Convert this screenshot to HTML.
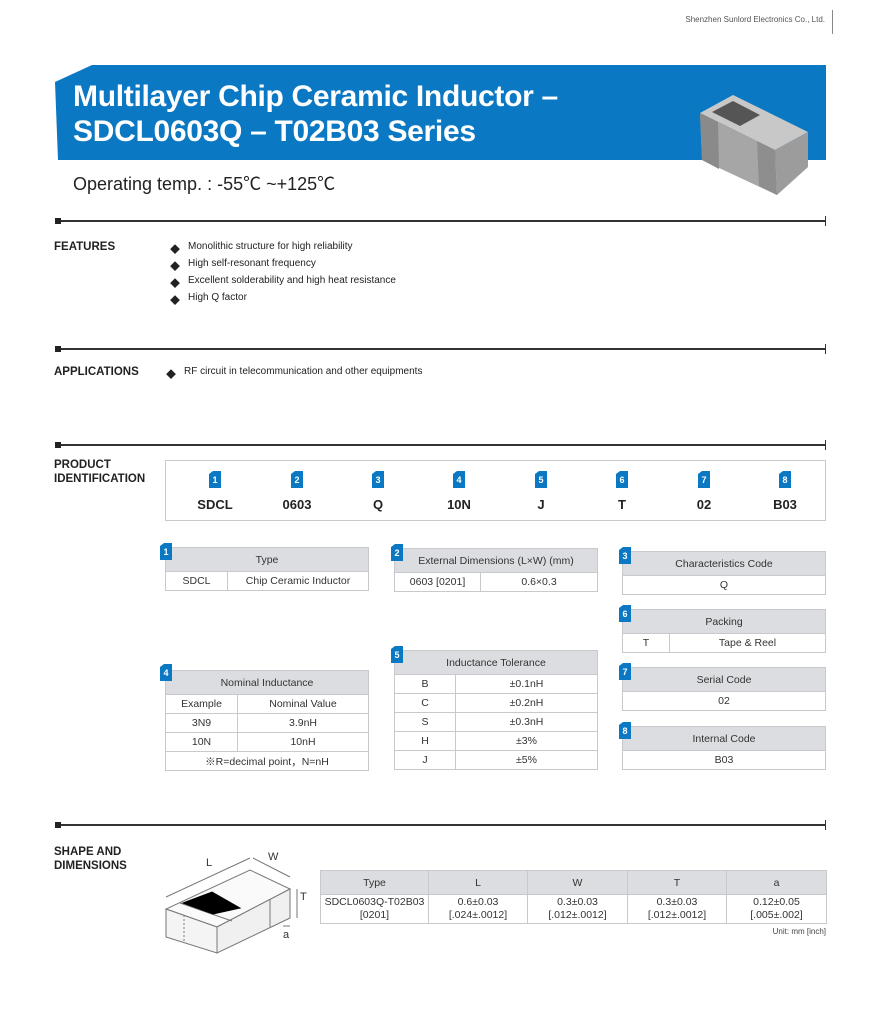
<!DOCTYPE html>
<html><head><meta charset="utf-8">
<style>
*{margin:0;padding:0;box-sizing:border-box}
body{width:878px;height:1014px;background:#fff;position:relative;font-family:"Liberation Sans","Noto Sans CJK SC",sans-serif;color:#222;overflow:hidden}
.a{position:absolute}
.sec{position:absolute;left:55px;width:771px;height:2px;background:#333}
.sec:before{content:"";position:absolute;left:0;top:-2px;width:6px;height:6px;background:#222}
.sec:after{content:"";position:absolute;right:0;top:-4px;width:1px;height:10px;background:#333}
.h{position:absolute;left:54px;font-weight:bold;font-size:11.5px;line-height:14px;color:#222}
.li{position:absolute;left:170px;font-size:10px}
.li span{position:absolute;left:18px;white-space:nowrap}
.badge{position:absolute;width:12px;height:17px;background:#0a78c2;color:#fff;font-size:9px;font-weight:bold;text-align:center;line-height:18px;clip-path:polygon(0 3px,4px 0,100% 0,100% 100%,0 100%)}
.code{position:absolute;top:497px;width:60px;margin-left:-30px;text-align:center;font-weight:bold;font-size:13px}
table{position:absolute;border-collapse:collapse;font-size:10.5px;color:#333}
td{border:1.5px solid #c8c9cc;text-align:center;height:19px;padding:0}
td.hd{background:#dcdde0;height:24px}
</style></head><body>
<div class="a" style="right:53px;top:15px;font-size:8px;color:#555">Shenzhen Sunlord Electronics Co., Ltd.</div>
<div class="a" style="left:832px;top:10px;width:1px;height:24px;background:#888"></div>

<div class="a" style="left:55px;top:65px;width:771px;height:95px;background:#0a78c2;clip-path:polygon(37px 0,100% 0,100% 100%,3px 100%,0 17px)"></div>
<div class="a" style="left:73px;top:79px;color:#fff;font-weight:bold;font-size:30px;line-height:35px;letter-spacing:-0.3px;white-space:nowrap">Multilayer Chip Ceramic Inductor –<br>SDCL0603Q – T02B03 Series</div>
<svg class="a" style="left:0;top:0" width="878" height="210">
<polygon points="700,113 733,95 808,132 775,150" fill="#c8c8c8"/>
<polygon points="712,112 733,101 760,115 740,126" fill="#555"/>
<polygon points="700,113 775,150 777,195 702,160" fill="#a6a6a6"/>
<polygon points="700,113 718,122 719,169 702,160" fill="#8a8a8a"/>
<polygon points="757,141 775,150 777,195 759,186" fill="#8e8e8e"/>
<polygon points="775,150 808,132 808,167 777,195" fill="#9c9c9c"/>
</svg>
<div class="a" style="left:73px;top:170px;font-size:18px;color:#222">Operating temp. : -55℃ ~+125℃</div>

<div class="sec" style="top:220px"></div>
<div class="h" style="top:240px">FEATURES</div>
<div class="li" style="top:241px">◆<span>Monolithic structure for high reliability</span></div>
<div class="li" style="top:258px">◆<span>High self-resonant frequency</span></div>
<div class="li" style="top:275px">◆<span>Excellent solderability and high heat resistance</span></div>
<div class="li" style="top:292px">◆<span>High Q factor</span></div>

<div class="sec" style="top:348px"></div>
<div class="h" style="top:365px">APPLICATIONS</div>
<div class="li" style="top:366px;left:166px">◆<span>RF circuit in telecommunication and other equipments</span></div>

<div class="sec" style="top:444px"></div>
<div class="h" style="top:458px">PRODUCT<br>IDENTIFICATION</div>
<div class="a" style="left:165px;top:460px;width:661px;height:61px;border:1.5px solid #c8c9cc"></div>
<div class="badge" style="left:209px;top:471px">1</div><div class="code" style="left:215px">SDCL</div>
<div class="badge" style="left:291px;top:471px">2</div><div class="code" style="left:297px">0603</div>
<div class="badge" style="left:372px;top:471px">3</div><div class="code" style="left:378px">Q</div>
<div class="badge" style="left:453px;top:471px">4</div><div class="code" style="left:459px">10N</div>
<div class="badge" style="left:535px;top:471px">5</div><div class="code" style="left:541px">J</div>
<div class="badge" style="left:616px;top:471px">6</div><div class="code" style="left:622px">T</div>
<div class="badge" style="left:698px;top:471px">7</div><div class="code" style="left:704px">02</div>
<div class="badge" style="left:779px;top:471px">8</div><div class="code" style="left:785px">B03</div>

<table style="left:165px;top:547px;width:204px"><tr><td class="hd" colspan="2">Type</td></tr><tr><td style="width:62px">SDCL</td><td>Chip Ceramic Inductor</td></tr></table>
<div class="badge" style="left:160px;top:543px">1</div>
<table style="left:394px;top:548px;width:204px"><tr><td class="hd" colspan="2">External Dimensions (L×W) (mm)</td></tr><tr><td style="width:86px">0603 [0201]</td><td>0.6×0.3</td></tr></table>
<div class="badge" style="left:391px;top:544px">2</div>
<table style="left:622px;top:551px;width:204px"><tr><td class="hd">Characteristics Code</td></tr><tr><td>Q</td></tr></table>
<div class="badge" style="left:619px;top:547px">3</div>
<table style="left:622px;top:609px;width:204px"><tr><td class="hd" colspan="2">Packing</td></tr><tr><td style="width:47px">T</td><td>Tape &amp; Reel</td></tr></table>
<div class="badge" style="left:619px;top:605px">6</div>
<table style="left:165px;top:670px;width:204px"><tr><td class="hd" colspan="2">Nominal Inductance</td></tr><tr><td style="width:72px">Example</td><td>Nominal Value</td></tr><tr><td>3N9</td><td>3.9nH</td></tr><tr><td>10N</td><td>10nH</td></tr><tr><td colspan="2">※R=decimal point，N=nH</td></tr></table>
<div class="badge" style="left:160px;top:664px">4</div>
<table style="left:394px;top:650px;width:204px"><tr><td class="hd" colspan="2">Inductance Tolerance</td></tr><tr><td style="width:61px">B</td><td>±0.1nH</td></tr><tr><td>C</td><td>±0.2nH</td></tr><tr><td>S</td><td>±0.3nH</td></tr><tr><td>H</td><td>±3%</td></tr><tr><td>J</td><td>±5%</td></tr></table>
<div class="badge" style="left:391px;top:646px">5</div>
<table style="left:622px;top:667px;width:204px"><tr><td class="hd">Serial Code</td></tr><tr><td>02</td></tr></table>
<div class="badge" style="left:619px;top:663px">7</div>
<table style="left:622px;top:726px;width:204px"><tr><td class="hd">Internal Code</td></tr><tr><td>B03</td></tr></table>
<div class="badge" style="left:619px;top:722px">8</div>

<div class="sec" style="top:824px"></div>
<div class="h" style="top:845px">SHAPE AND<br>DIMENSIONS</div>
<svg class="a" style="left:150px;top:840px" width="170" height="120" fill="none" stroke="#777" stroke-width="1">
<polygon points="16,69 67,87 140,49 100,30" fill="#fafafa"/>
<polygon points="16,69 67,87 67,113 16,97" fill="#f4f4f4"/>
<polygon points="67,87 140,49 140,78 67,113" fill="#f0f0f0"/>
<line x1="30" y1="63" x2="82" y2="81"/><line x1="120" y1="59" x2="120" y2="88"/>
<polygon points="33,63 62,52 90,68 63,74" fill="#000" stroke="#000"/>
<line x1="16" y1="57" x2="100" y2="18"/><line x1="103" y1="18" x2="140" y2="37"/>
<line x1="147" y1="49" x2="147" y2="78"/><line x1="133" y1="86" x2="140" y2="86"/>
<line x1="34" y1="75" x2="34" y2="103" stroke-dasharray="2,2"/>
<text x="56" y="26" fill="#333" stroke="none" font-size="11" font-family="Liberation Sans">L</text>
<text x="118" y="20" fill="#333" stroke="none" font-size="11" font-family="Liberation Sans">W</text>
<text x="150" y="60" fill="#333" stroke="none" font-size="11" font-family="Liberation Sans">T</text>
<text x="133" y="98" fill="#333" stroke="none" font-size="11" font-family="Liberation Sans">a</text>
</svg>
<table style="left:320px;top:870px;width:507px"><tr><td class="hd" style="width:108px">Type</td><td class="hd" style="width:99px">L</td><td class="hd" style="width:100px">W</td><td class="hd" style="width:99px">T</td><td class="hd">a</td></tr>
<tr><td style="height:29px;line-height:13px">SDCL0603Q-T02B03<br>[0201]</td><td style="line-height:13px">0.6±0.03<br>[.024±.0012]</td><td style="line-height:13px">0.3±0.03<br>[.012±.0012]</td><td style="line-height:13px">0.3±0.03<br>[.012±.0012]</td><td style="line-height:13px">0.12±0.05<br>[.005±.002]</td></tr></table>
<div class="a" style="right:52px;top:927px;font-size:8px;color:#444">Unit: mm [inch]</div>
</body></html>
